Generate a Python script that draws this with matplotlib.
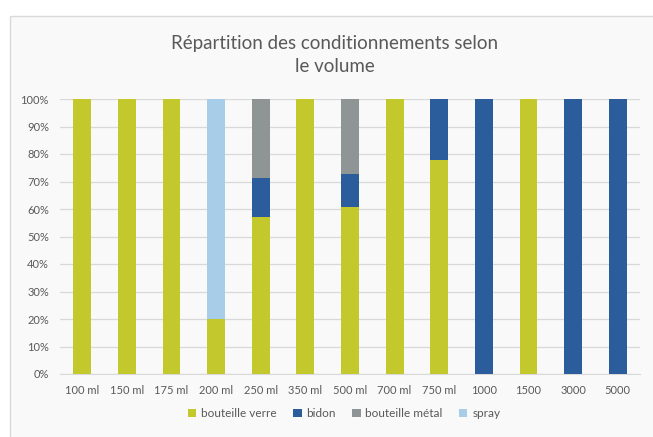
import matplotlib
matplotlib.use("Agg")
import matplotlib.pyplot as plt
import numpy as np
from matplotlib.patches import Rectangle
from matplotlib.ticker import FuncFormatter

categories = ["100 ml", "150 ml", "175 ml", "200 ml", "250 ml", "350 ml", "500 ml",
              "700 ml", "750 ml", "1000", "1500", "3000", "5000"]
bouteille_verre = [100, 100, 100, 20, 57.1, 100, 60.6, 100, 78.0, 0, 100, 0, 0]
bidon = [0, 0, 0, 0, 14.3, 0, 12.1, 0, 22.0, 100, 0, 100, 100]
bouteille_metal = [0, 0, 0, 0, 28.6, 0, 27.3, 0, 0, 0, 0, 0, 0]
spray = [0, 0, 0, 80, 0, 0, 0, 0, 0, 0, 0, 0, 0]

series = [("bouteille verre", bouteille_verre, "#c3c92d"),
          ("bidon", bidon, "#2b5c9c"),
          ("bouteille métal", bouteille_metal, "#8f9495"),
          ("spray", spray, "#a8cde8")]

plt.rcParams["font.family"] = ["Lato", "DejaVu Sans"]

fig = plt.figure(figsize=(6.53, 4.37), dpi=100)
fig.patch.set_facecolor("white")
# chart box (light grey area with thin border)
fig.patches.append(Rectangle((10 / 653, -0.01), 1.0, (437 - 16) / 437 + 0.01,
                             transform=fig.transFigure, facecolor="#f9f9f9",
                             edgecolor="#d9d9d9", linewidth=1.0, zorder=-10))

ax = fig.add_axes([60 / 653, (437 - 374) / 437, 580 / 653, 275 / 437])
ax.set_facecolor("none")

x = np.arange(len(categories))
bottom = np.zeros(len(categories))
for name, vals, color in series:
    vals = np.array(vals, dtype=float)
    ax.bar(x, vals, 0.4, bottom=bottom, color=color, label=name, zorder=3)
    bottom += vals

ax.set_xlim(-0.5, len(categories) - 0.5)
ax.set_ylim(0, 100)
ax.set_yticks(np.arange(0, 101, 10))
ax.yaxis.set_major_formatter(FuncFormatter(lambda v, p: f"{int(v)}%"))
ax.set_xticks(x)
ax.set_xticklabels(categories)
ax.grid(axis="y", color="#d9d9d9", linewidth=0.9, zorder=0)
for s in ["top", "right", "left"]:
    ax.spines[s].set_visible(False)
ax.spines["bottom"].set_color("#d9d9d9")
ax.tick_params(axis="both", length=0, labelsize=8, colors="#595959", pad=8)

fig.text(0.513, 1 - 55 / 437, "Répartition des conditionnements selon\nle volume",
         ha="center", va="center", fontsize=13.5, color="#595959", linespacing=1.5)

ax.legend(loc="upper center", bbox_to_anchor=(0.49, -0.085), ncol=4, frameon=False,
          fontsize=8.5, handlelength=0.7, handleheight=0.7, handletextpad=0.4,
          columnspacing=1.4, labelcolor="#595959")

fig.savefig("out.png", dpi=100)
